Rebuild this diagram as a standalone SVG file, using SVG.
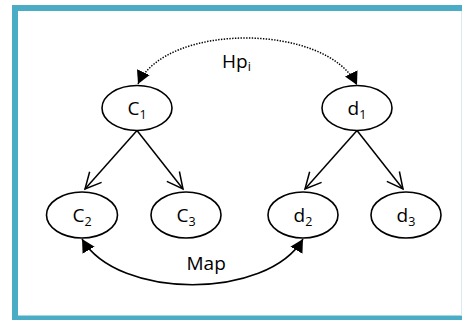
<svg xmlns="http://www.w3.org/2000/svg" width="462" height="320" viewBox="0 0 462 320">
  <style>
    .node ellipse { fill: #ffffff; stroke: #000000; stroke-width: 1.6; }
    .lbl { font-family: "Open Sans", "Liberation Sans", sans-serif; font-size: 19px; fill: #000000; }
    .sub { font-size: 12.5px; }
    .edge { fill: none; stroke: #000000; stroke-width: 1.5; }
    .dotted { stroke-dasharray: 1.4 1.4; }
  </style>
  <defs>
    <marker id="open" markerUnits="userSpaceOnUse" viewBox="0 0 20 20" refX="18" refY="10" markerWidth="20" markerHeight="20" orient="auto">
      <path d="M2,2 L18,10 L2,18" fill="none" stroke="#000000" stroke-width="1.5" stroke-linejoin="miter"/>
    </marker>
    <marker id="tri" markerUnits="userSpaceOnUse" viewBox="0 0 14 14" refX="13" refY="7" markerWidth="14" markerHeight="14" orient="auto-start-reverse">
      <path d="M0,0 L13,7 L0,14 Z" fill="#000000"/>
    </marker>
  </defs>

  <rect x="0" y="0" width="462" height="320" fill="#ffffff"/>
  <g id="frame">
    <rect x="15" y="8" width="470" height="310.5" fill="#ffffff" stroke="#4BACC6" stroke-width="6"/>
    <line x1="461.5" y1="11" x2="461.5" y2="315.5" stroke="#DCEAF0" stroke-width="1"/>
  </g>

  <g id="connectors">
    <path class="edge" d="M137,130.5 L85,189" marker-end="url(#open)"/>
    <path class="edge" d="M137,130.5 L183,189" marker-end="url(#open)"/>
    <path class="edge" d="M357,130.5 L305,189" marker-end="url(#open)"/>
    <path class="edge" d="M357,130.5 L403,189" marker-end="url(#open)"/>
    <path class="edge dotted" d="M138,84 C166,22.5 326,22.5 357,85" marker-start="url(#tri)" marker-end="url(#tri)"/>
    <path class="edge" d="M82,239 C118,300 267,300 303,239" marker-start="url(#tri)" marker-end="url(#tri)"/>
    <text class="lbl" x="222" y="68">Hp<tspan class="sub" dy="3">i</tspan></text>
    <text class="lbl" x="186.5" y="270">Map</text>
  </g>

  <g id="C1" class="node">
    <ellipse cx="137" cy="108" rx="35" ry="22.5"/>
    <text class="lbl" x="137" y="114.5" text-anchor="middle">C<tspan class="sub" dy="4">1</tspan></text>
  </g>
  <g id="d1" class="node">
    <ellipse cx="357" cy="108" rx="35" ry="22.5"/>
    <text class="lbl" x="357" y="114.5" text-anchor="middle">d<tspan class="sub" dy="4">1</tspan></text>
  </g>
  <g id="C2" class="node">
    <ellipse cx="82" cy="215" rx="35.5" ry="23"/>
    <text class="lbl" x="82" y="221.5" text-anchor="middle">C<tspan class="sub" dy="4">2</tspan></text>
  </g>
  <g id="C3" class="node">
    <ellipse cx="186" cy="215" rx="35" ry="23"/>
    <text class="lbl" x="186" y="221.5" text-anchor="middle">C<tspan class="sub" dy="4">3</tspan></text>
  </g>
  <g id="d2" class="node">
    <ellipse cx="303" cy="215" rx="35" ry="23"/>
    <text class="lbl" x="303" y="221.5" text-anchor="middle">d<tspan class="sub" dy="4">2</tspan></text>
  </g>
  <g id="d3" class="node">
    <ellipse cx="406" cy="215" rx="35" ry="23"/>
    <text class="lbl" x="406" y="221.5" text-anchor="middle">d<tspan class="sub" dy="4">3</tspan></text>
  </g>
</svg>
